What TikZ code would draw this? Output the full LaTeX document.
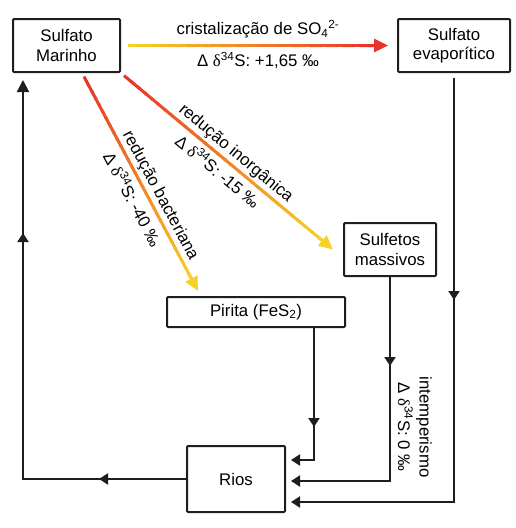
\documentclass[tikz,border=0pt]{standalone}
\usepackage{fontspec}
\setmainfont{Liberation Sans}
\newfontfamily\grkfont{Liberation Serif}
\usetikzlibrary{arrows.meta,calc,decorations.markings}
\definecolor{grRed}{RGB}{233,50,40}
\definecolor{grYel}{RGB}{247,208,40}
\definecolor{lineGray}{RGB}{30,30,30}

\begin{document}
\begin{tikzpicture}[x=1pt,y=-1pt,
    box/.style={draw=lineGray, line width=2pt, rounded corners=1pt, inner sep=0pt, align=center, font=\fontsize{16.8}{19.5}\selectfont},
    flow/.style={lineGray, line width=2pt, -{Triangle[length=9pt,width=11pt]}},
    midtip/.style={postaction={decorate, decoration={markings, mark=at position #1 with {\arrow{Triangle[length=9pt,width=11pt]}}}}},
    gradseg/.style={line width=3pt, line cap=butt},
    gradtip/.style={line width=3pt, -{Triangle[length=14pt,width=13pt]}},
    lbl/.style={font=\fontsize{16.8}{19.5}\selectfont}]
    \useasboundingbox (0,0) rectangle (516,528);

    % --- Boxes ---
    \node[box, minimum width=107pt, minimum height=53pt] (marinho) at (66.5,45.5) {Sulfato\\Marinho};
    \node[box, minimum width=112pt, minimum height=53pt] (evap) at (454,45.5) {Sulfato\\evaporítico};
    \node[box, minimum width=92pt, minimum height=53pt] (sulfetos) at (390,249.5) {Sulfetos\\massivos};
    \node[box, minimum width=178pt, minimum height=30pt] (pirita) at (256,312) {Pirita (FeS\textsubscript{2})};
    \node[box, minimum width=98pt, minimum height=66pt] (rios) at (236,479) {Rios};

    % --- Ends of the coloured arrows ---
    \coordinate (cra) at ([xshift=7pt]marinho.east);
    \coordinate (crb) at ([xshift=-9pt]evap.west);
    \coordinate (ba) at ([xshift=17.5pt,yshift=-3.6pt]marinho.south);
    \coordinate (bb) at ([xshift=-58pt,yshift=5pt]pirita.north);
    \coordinate (ia) at ([xshift=3pt,yshift=-2.6pt]marinho.south east);
    \coordinate (ib) at ([xshift=-10pt]sulfetos.west);

    % Coloured arrows (yellow <-> red)
    \foreach \pa/\pb/\ca/\cb in {cra/crb/grYel/grRed, ba/bb/grRed/grYel, ia/ib/grRed/grYel}{
        \coordinate (\pa-base) at ($(\pb)!12pt!(\pa)$);
        \foreach \i in {0,...,29}{
            \pgfmathtruncatemacro\pct{\i*100/29}
            \draw[gradseg, color=\cb!\pct!\ca] ($(\pa)!\i/30!(\pa-base)$) -- ($(\pa)!{min(1,(\i+1.4)/30)}!(\pa-base)$);
        }
        \draw[gradtip, color=\cb] ($(\pb)!20pt!(\pa)$) -- (\pb);
    }

    % Labels of the coloured arrows
    \path (cra) -- (crb)
        node[lbl, midway, above=4pt] {cristalização de SO\textsubscript{4}\textsuperscript{2-}}
        node[lbl, midway, below=3pt] {Δ {\grkfont δ}\textsuperscript{34}S: +1,65 ‰};
    \path (ba) -- (bb)
        node[lbl, pos=0.58, sloped, above] {redução bacteriana}
        node[lbl, pos=0.54, sloped, below=3pt] {Δ {\grkfont δ}\textsuperscript{34}S: -40 ‰};
    \path (ia) -- (ib)
        node[lbl, pos=0.5, sloped, above] {redução inorgânica}
        node[lbl, pos=0.49, sloped, below=2pt] {Δ {\grkfont δ}\textsuperscript{34}S: -15 ‰};

    % --- Return paths ---
    \coordinate (lc) at (23,479);
    \draw[flow, -{Triangle[length=12pt,width=12pt]}, midtip=87pt, midtip=409pt]
        (rios.west) -- (lc) -- ([yshift=-7pt]lc |- marinho.south);
    \draw[flow, midtip=222pt] ([yshift=-5pt]evap.south) |- ([xshift=5pt,yshift=-23pt]rios.east);
    \draw[flow, midtip=89pt] (sulfetos.south) |- ([xshift=5pt,yshift=-2pt]rios.east);
    \draw[flow, midtip=99pt] ([xshift=58pt]pirita.south) |- ([xshift=5pt,yshift=19pt]rios.east);

    \node[lbl, rotate=-90, align=center] (intemp) at (415,427) {intemperismo\\[2pt]Δ {\grkfont δ}\textsuperscript{34}S: 0 ‰};
\end{tikzpicture}
\end{document}
